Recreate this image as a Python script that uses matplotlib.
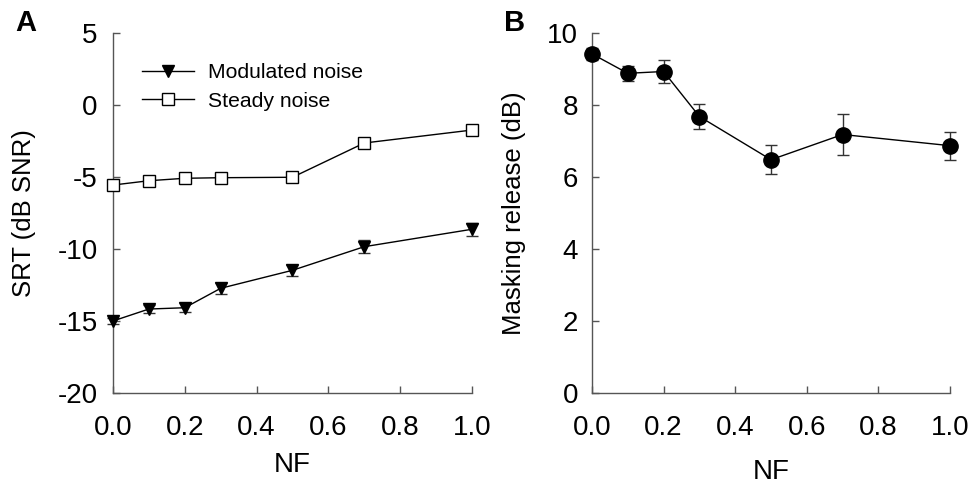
import matplotlib.pyplot as plt

plt.rcParams['font.family'] = ['Liberation Sans', 'DejaVu Sans']
plt.rcParams['axes.unicode_minus'] = False

nf = [0.0, 0.1, 0.2, 0.3, 0.5, 0.7, 1.0]

# panel A: SRT (dB SNR)
srt_mod = [-15.0, -14.17, -14.08, -12.73, -11.48, -9.84, -8.63]
srt_mod_err = [0.2, 0.25, 0.3, 0.37, 0.37, 0.46, 0.44]
srt_steady = [-5.56, -5.26, -5.09, -5.05, -5.02, -2.64, -1.74]
srt_steady_err = [0.2, 0.15, 0.15, 0.15, 0.15, 0.2, 0.15]

# panel B: masking release (dB)
release = [9.42, 8.88, 8.93, 7.68, 6.48, 7.18, 6.87]
release_err = [0.16, 0.21, 0.31, 0.35, 0.40, 0.58, 0.39]

fig = plt.figure(figsize=(9.73, 4.88), dpi=100)
axA = fig.add_axes([0.1161, 0.1947, 0.369, 0.7377])
axB = fig.add_axes([0.6084, 0.1947, 0.368, 0.7377])

axis_col = '#555555'
err_col = '#333333'

def style(ax, ypad):
    for s in ['top', 'right']:
        ax.spines[s].set_visible(False)
    for s in ['left', 'bottom']:
        ax.spines[s].set_color(axis_col)
        ax.spines[s].set_linewidth(1.0)
    ax.tick_params(direction='in', length=5, width=1.0, color=axis_col,
                   labelsize=20)
    ax.tick_params(axis='x', pad=16)
    ax.tick_params(axis='y', pad=ypad)
    ax.set_xlim(0, 1.0)
    ax.set_xticks([0.0, 0.2, 0.4, 0.6, 0.8, 1.0])
    ax.set_xticklabels(['0.0', '0.2', '0.4', '0.6', '0.8', '1.0'])
    ax.set_xlabel('NF', fontsize=20)

# panel A
axA.errorbar(nf, srt_mod, yerr=srt_mod_err, fmt='none', ecolor=err_col,
             elinewidth=1.0, capsize=4, clip_on=False, zorder=2)
axA.errorbar(nf, srt_steady, yerr=srt_steady_err, fmt='none', ecolor=err_col,
             elinewidth=1.0, capsize=3, clip_on=False, zorder=2)
axA.plot(nf, srt_mod, color='black', lw=1.0, marker='v', ms=9,
         mfc='black', mec='black', label='Modulated noise', clip_on=False, zorder=3)
axA.plot(nf, srt_steady, color='black', lw=1.0, marker='s', ms=9,
         mfc='white', mec='black', mew=1.0, label='Steady noise', clip_on=False, zorder=3)
style(axA, 11)
axA.set_ylim(-20, 5)
axA.set_yticks([-20, -15, -10, -5, 0, 5])
axA.set_ylabel('SRT (dB SNR)', fontsize=18.5)
axA.yaxis.set_label_coords(-0.215, 0.5)
axA.xaxis.set_label_coords(0.5, -0.164)
axA.legend(loc='upper left', bbox_to_anchor=(0.056, 0.94), frameon=False,
           fontsize=15.2, handlelength=2.5, handletextpad=0.65,
           labelspacing=0.45, borderaxespad=0)

# panel B
axB.errorbar(nf, release, yerr=release_err, fmt='none', ecolor=err_col,
             elinewidth=1.0, capsize=4, clip_on=False, zorder=2)
axB.plot(nf, release, color='black', lw=1.0, marker='o', ms=11,
         mfc='black', mec='black', clip_on=False, zorder=3)
style(axB, 10)
axB.set_ylim(0, 10)
axB.set_yticks([0, 2, 4, 6, 8, 10])
axB.set_ylabel('Masking release (dB)', fontsize=18.5)
axB.yaxis.set_label_coords(-0.185, 0.5)
axB.xaxis.set_label_coords(0.5, -0.183)

fig.text(0.027, 0.952, 'A', fontsize=21, fontweight='bold', va='center', ha='center')
fig.text(0.529, 0.952, 'B', fontsize=21, fontweight='bold', va='center', ha='center')

fig.savefig('out.png', dpi=100)
